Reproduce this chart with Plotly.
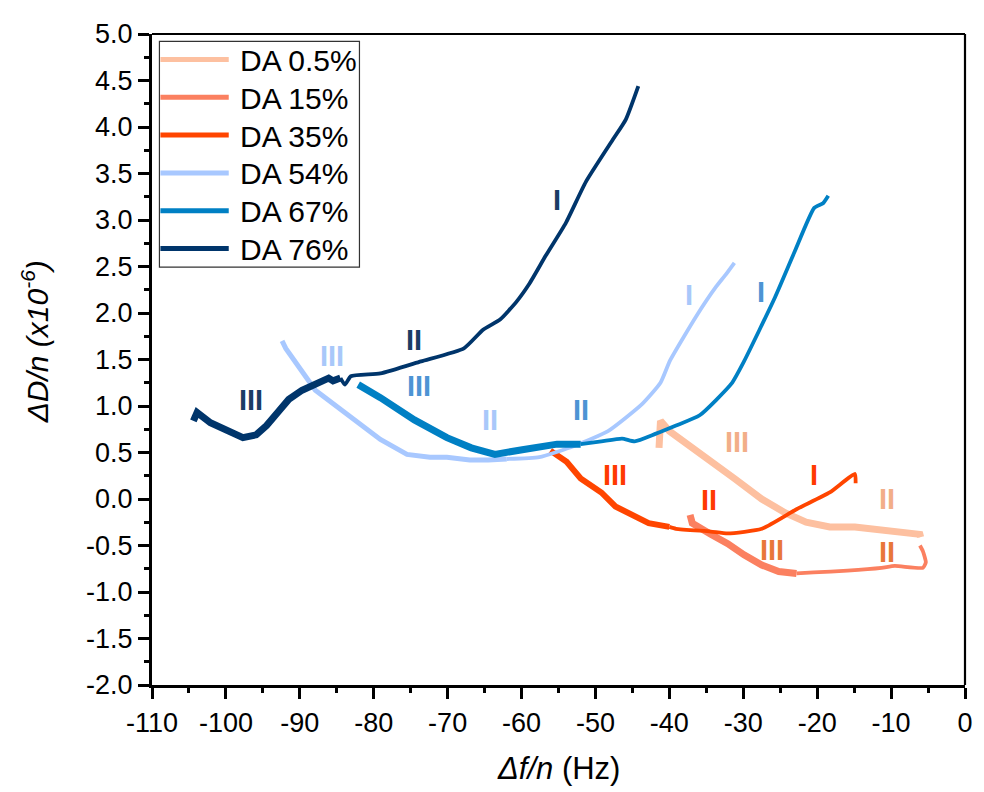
import plotly.graph_objects as go

# ---------------- data ----------------
series_names = ["DA 0.5%", "DA 15%", "DA 35%", "DA 54%", "DA 67%", "DA 76%"]
series_colors = ["#fdc0a0", "#fb8060", "#ff4500", "#a8c8ff", "#0080c4", "#00356b"]

# noisy (thick) segments, stage III
da05_noisy_x = [-41.4, -41.2, -40.0, -36.8, -34.4, -31.2, -27.5, -24.3, -21.5, -18.3, -14.9, -11.3, -8.9, -6.1, -6.0]
da05_noisy_y = [0.55, 0.84, 0.73, 0.55, 0.40, 0.22, 0.00, -0.15, -0.25, -0.30, -0.30, -0.33, -0.35, -0.38, -0.41]
da05_x = []
da05_y = []

da15_noisy_x = [-37.2, -36.9, -34.4, -32.1, -29.9, -27.5, -25.2, -22.8]
da15_noisy_y = [-0.17, -0.26, -0.38, -0.48, -0.60, -0.71, -0.78, -0.80]
da15_x = [-22.8, -20.5, -15.9, -11.3, -9.5, -5.7, -5.3, -5.7, -6.1]
da15_y = [-0.80, -0.79, -0.77, -0.74, -0.72, -0.74, -0.68, -0.56, -0.50]

da35_noisy_x = [-56.1, -53.9, -52.0, -49.2, -47.3, -45.6, -42.8, -40.0]
da35_noisy_y = [0.52, 0.40, 0.22, 0.07, -0.08, -0.15, -0.26, -0.30]
da35_x = [-40.0, -39.1, -34.4, -32.1, -27.5, -22.8, -18.3, -14.9, -14.8]
da35_y = [-0.30, -0.32, -0.35, -0.37, -0.32, -0.11, 0.07, 0.27, 0.17]

da54_noisy_x = [-92.4, -91.9, -87.9, -83.5, -79.1, -75.5, -72.4, -70.1, -67.0, -64.5, -62.0]
da54_noisy_y = [1.70, 1.62, 1.17, 0.90, 0.64, 0.48, 0.45, 0.45, 0.42, 0.42, 0.43]
da54_x = [-62.0, -57.6, -52.9, -48.3, -43.7, -41.2, -39.9, -36.4, -33.7, -32.4, -31.2]
da54_y = [0.43, 0.45, 0.57, 0.73, 1.02, 1.25, 1.49, 1.96, 2.28, 2.41, 2.54]

da67_noisy_x = [-82.1, -79.1, -74.5, -71.5, -70.1, -66.8, -63.6, -59.9, -55.2, -52.0]
da67_noisy_y = [1.23, 1.09, 0.85, 0.72, 0.66, 0.55, 0.48, 0.53, 0.59, 0.59]
da67_x = [-52.0, -49.2, -46.4, -44.7, -41.9, -39.1, -35.9, -31.6, -29.9, -25.7, -23.1, -20.4, -19.2, -18.5]
da67_y = [0.59, 0.62, 0.65, 0.62, 0.70, 0.79, 0.90, 1.24, 1.48, 2.17, 2.65, 3.13, 3.18, 3.26]

da76_noisy_x = [-104.4, -103.9, -102.1, -99.5, -97.7, -95.9, -94.5, -92.8, -91.5, -89.7, -87.9, -87.1, -86.1, -85.5, -84.5]
da76_noisy_y = [0.84, 0.93, 0.82, 0.72, 0.66, 0.69, 0.79, 0.95, 1.07, 1.17, 1.23, 1.25, 1.30, 1.27, 1.30]
da76_x = [-84.5, -83.9, -83.1, -79.1, -73.6, -67.8, -65.2, -62.9, -60.7, -58.9, -56.7, -54.0, -51.3, -47.6, -45.9, -44.2]
da76_y = [1.30, 1.23, 1.32, 1.35, 1.48, 1.62, 1.82, 1.93, 2.12, 2.32, 2.62, 2.97, 3.41, 3.87, 4.08, 4.44]

noisy_x = [da05_noisy_x, da15_noisy_x, da35_noisy_x, da54_noisy_x, da67_noisy_x, da76_noisy_x]
noisy_y = [da05_noisy_y, da15_noisy_y, da35_noisy_y, da54_noisy_y, da67_noisy_y, da76_noisy_y]
smooth_x = [da05_x, da15_x, da35_x, da54_x, da67_x, da76_x]
smooth_y = [da05_y, da15_y, da35_y, da54_y, da67_y, da76_y]
noisy_width = [7, 7, 6, 5, 7, 7]

# stage labels
label_text = ["I", "II", "III", "III", "III", "II", "II", "I", "I", "III", "III", "I", "II", "II", "III", "II"]
label_x = [-55.25, -74.5, -96.6, -85.7, -73.9, -64.3, -52.0, -37.4, -27.6, -30.9, -47.4, -20.4, -34.7, -10.6, -26.1, -10.6]
label_y = [3.21, 1.71, 1.06, 1.54, 1.22, 0.85, 0.96, 2.19, 2.23, 0.61, 0.26, 0.26, -0.01, 0.00, -0.55, -0.57]
label_color = ["#1a3d64", "#1a3d64", "#1a3d64", "#a8c8fa", "#4d94d4", "#a8c8fa", "#4d94d4", "#a8c8fa",
               "#4d94d4", "#f2ae88", "#ff3a00", "#ff3a00", "#ff3a00", "#f2ae88", "#e8773a", "#e8773a"]

x_tick_vals = [-110, -100, -90, -80, -70, -60, -50, -40, -30, -20, -10, 0]
x_tick_text = ["-110", "-100", "-90", "-80", "-70", "-60", "-50", "-40", "-30", "-20", "-10", "0"]
y_tick_vals = [-2.0, -1.5, -1.0, -0.5, 0.0, 0.5, 1.0, 1.5, 2.0, 2.5, 3.0, 3.5, 4.0, 4.5, 5.0]
y_tick_text = ["-2.0", "-1.5", "-1.0", "-0.5", "0.0", "0.5", "1.0", "1.5", "2.0", "2.5", "3.0", "3.5", "4.0", "4.5", "5.0"]

# ---------------- figure ----------------
FONT = "Arial, Liberation Sans, sans-serif"
OFF = 8  # page body margin in the browser
W, H = 984 - OFF, 792 - OFF
# plot-area edges in screen pixels of the reference
SL, SR, ST, SB = 152, 973, 26, 685
L, R, T, B = SL - OFF, SR - OFF, ST - OFF, SB - OFF


def pxx(px):  # screen px -> paper x
    return (px - SL) / (SR - SL)


def pxy(py):  # screen px -> paper y
    return (SB - py) / (SB - ST)


fig = go.Figure()
for i, name in enumerate(series_names):
    c = series_colors[i]
    if noisy_x[i]:
        fig.add_trace(go.Scatter(x=noisy_x[i], y=noisy_y[i], mode="lines", name=name, legendgroup=name,
                                 showlegend=False, line=dict(color=c, width=noisy_width[i])))
    if smooth_x[i]:
        fig.add_trace(go.Scatter(x=smooth_x[i], y=smooth_y[i], mode="lines", name=name, legendgroup=name,
                                 showlegend=False,
                                 line=dict(color=c, width=3.8, shape="spline", smoothing=0.5)))

annotations = []
for t, x, y, c in zip(label_text, label_x, label_y, label_color):
    annotations.append(dict(x=x, y=y, xref="x", yref="y", text="<b>%s</b>" % t, showarrow=False,
                            font=dict(family=FONT, size=29, color=c), xanchor="center", yanchor="middle"))

shapes = []
# top and right frame
shapes.append(dict(type="line", xref="paper", yref="paper", x0=0, x1=1, y0=1, y1=1,
                   line=dict(color="black", width=2.2)))
shapes.append(dict(type="line", xref="paper", yref="paper", x0=1, x1=1, y0=0, y1=1,
                   line=dict(color="black", width=2.2)))
# custom legend
shapes.append(dict(type="rect", xref="paper", yref="paper", x0=pxx(159.5), x1=pxx(361.5),
                   y0=pxy(262), y1=pxy(33.5), line=dict(color="#333333", width=1.2),
                   fillcolor="white", layer="above"))
for i, name in enumerate(series_names):
    yy = 51.7 + i * 38.3
    shapes.append(dict(type="line", xref="paper", yref="paper", x0=pxx(160.5), x1=pxx(229.5),
                       y0=pxy(yy), y1=pxy(yy), line=dict(color=series_colors[i], width=5), layer="above"))
    annotations.append(dict(x=pxx(239), y=pxy(yy + 1), xref="paper", yref="paper", text=name,
                            showarrow=False, xanchor="left", yanchor="middle",
                            font=dict(family=FONT, size=30, color="black")))

# axis titles
annotations.append(dict(x=pxx(563), y=pxy(770), xref="paper", yref="paper",
                        text="<i>Δf/n</i> (Hz)", showarrow=False, xanchor="center", yanchor="middle",
                        font=dict(family=FONT, size=31, color="black")))
annotations.append(dict(x=pxx(34), y=pxy(338), xref="paper", yref="paper", textangle=-90,
                        text="<i>ΔD/n (x10<sup>-6</sup>)</i>",
                        showarrow=False, xanchor="center", yanchor="middle",
                        font=dict(family=FONT, size=30, color="black")))

axis_common = dict(showgrid=False, zeroline=False, showline=True, linecolor="black", linewidth=3.2,
                   ticks="outside", ticklen=11, tickwidth=2.5, tickcolor="black",
                   tickfont=dict(family=FONT, size=27, color="black"), mirror=False)

fig.update_layout(
    width=W, height=H,
    margin=dict(l=L, r=W - R, t=T, b=H - B),
    plot_bgcolor="white", paper_bgcolor="white",
    showlegend=False,
    xaxis=dict(range=[-110, 0], tickvals=x_tick_vals, ticktext=x_tick_text,
               minor=dict(dtick=5, ticklen=5, tickwidth=2.5, tickcolor="black", ticks="outside"),
               **axis_common),
    yaxis=dict(range=[-2, 5], tickvals=y_tick_vals, ticktext=y_tick_text,
               minor=dict(dtick=0.25, ticklen=5, tickwidth=2.5, tickcolor="black", ticks="outside"),
               **axis_common),
    annotations=annotations,
    shapes=shapes,
)

fig.write_html("out.html")
